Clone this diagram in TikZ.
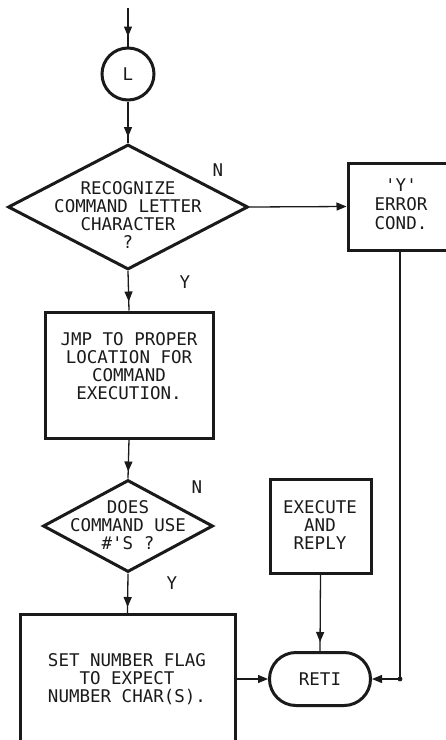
\documentclass[tikz,border=0pt]{standalone}
\usepackage{fontspec}
\setmonofont{DejaVu Sans Mono}
\usetikzlibrary{shapes.geometric,shapes.misc,arrows.meta,decorations.markings}
\definecolor{ink}{HTML}{1A1A1A}
\begin{document}
\begin{tikzpicture}[x=1pt,y=-1pt,
  every node/.style={font=\ttfamily\fontsize{17.5}{18}\selectfont,text=ink},
  shp/.style={draw=ink,line width=3pt,inner sep=0pt},
  conn/.style={draw=ink,line width=1.3pt},
  tip/.style={-{Triangle[length=10pt,width=8pt]}},
  headat/.style={postaction={decorate},decoration={markings,mark=at position #1 with {\arrow[ink]{Triangle[length=10pt,width=8pt]}}}},
  txt/.style={align=center,inner sep=0pt}]
\useasboundingbox (0,0) rectangle (446,740);
\clip (0,0) rectangle (446,740);

% shapes
\node[shp,circle,minimum size=52pt] (L) at (128,74) {L};
\node[shp,diamond,minimum width=240pt,minimum height=125pt] (d1) at (128,207) {};
\node[txt] (d1t) at (128,215) {RECOGNIZE\\COMMAND LETTER\\CHARACTER\\?};
\node[shp,rectangle,minimum width=104pt,minimum height=87pt] (yb) at (400,206.5) {};
\node[txt,font=\ttfamily\fontsize{17.5}{19}\selectfont] (ybt) at (401,204) {'Y'\\ERROR\\COND.};
\node[shp,rectangle,minimum width=168pt,minimum height=126pt] (jmp) at (129,375) {};
\node[txt] (jmpt) at (129,366) {JMP TO PROPER\\LOCATION FOR\\COMMAND\\EXECUTION.};
\node[shp,diamond,minimum width=170pt,minimum height=92pt] (d2) at (128,526) {};
\node[txt] (d2t) at (128,525) {DOES\\COMMAND USE\\\#'S ?};
\node[shp,rectangle,minimum width=215pt,minimum height=160pt,anchor=north] (set) at (127.5,613) {};
\node[txt] (sett) at (127,679) {SET NUMBER FLAG\\TO EXPECT\\NUMBER CHAR(S).};
\node[shp,rectangle,minimum width=101pt,minimum height=94pt] (ex) at (320.5,526) {};
\node[txt] (ext) at (320,525) {EXECUTE\\AND\\REPLY};
\node[shp,rounded rectangle,minimum width=101pt,minimum height=53pt] (reti) at (320,679) {RETI};

% labels
\node (n1) at (218,170) {N};
\node (y1) at (185,282) {Y};
\node (n2) at (197,487) {N};
\node (y2) at (172,583) {Y};

% connectors
\coordinate (start) at (128,8);
\coordinate (jn) at (yb.south |- reti.east);
\draw[conn,headat=-10pt] (start) -- (L.north);
\draw[conn,headat=-6pt] (L.south) -- (d1.north);
\draw[conn,tip] (d1.east) -- (yb.west);
\draw[conn,headat=-9pt] (d1.south) -- (jmp.north);
\draw[conn,headat=-7pt] (jmp.south) -- (d2.north);
\draw[conn,headat=-6pt] (d2.south) -- (set.north);
\draw[conn,headat=-9pt] (ex.south) -- (reti.north);
\draw[conn,tip] (reti.west -| set.east) -- (reti.west);
\draw[conn,tip] (yb.south) -- (jn) -- (reti.east);
\fill[ink] (jn) circle (2.4pt);
\end{tikzpicture}
\end{document}
